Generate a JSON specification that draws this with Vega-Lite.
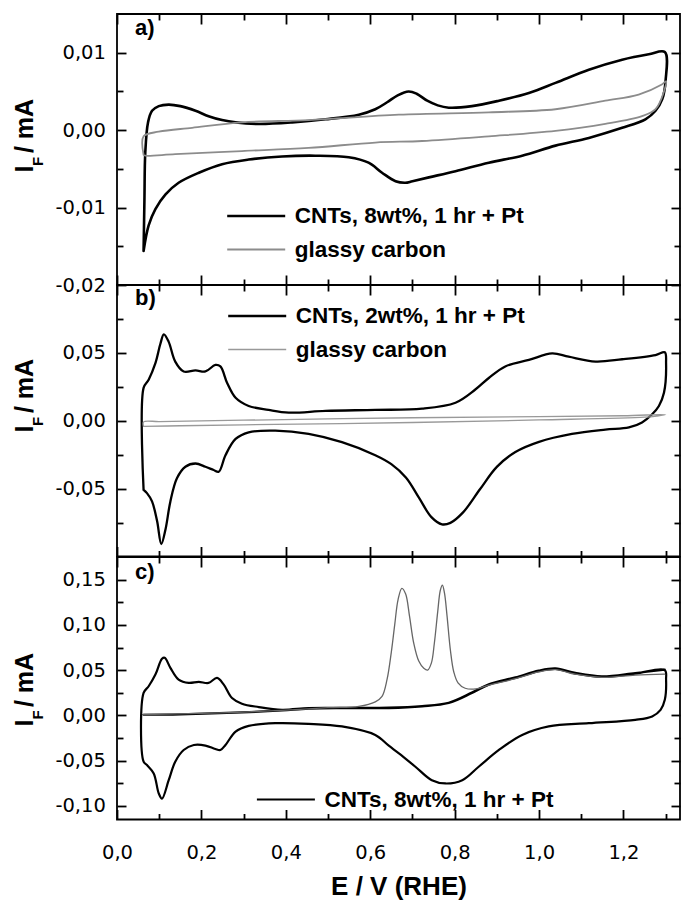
{
  "$schema": "https://vega.github.io/schema/vega-lite/v6.json",
  "background": "white",
  "padding": {"left": 11, "top": 12, "right": 0, "bottom": 0},
  "spacing": 0,
  "bounds": "flush",
  "config": {
    "view": {"stroke": "#000", "strokeWidth": 1.8},
    "axis": {"labelFont": "DejaVu Sans", "labelFontSize": 19.5, "labelColor": "#000", "titleFont": "Liberation Sans", "titleFontSize": 25, "titleFontWeight": "bold", "titleColor": "#000", "tickColor": "#000", "tickWidth": 1.8, "domain": false, "grid": false, "labelOverlap": false, "labelFlush": false},
    "legend": {"orient": "none", "symbolType": "M-1,0H3", "symbolSize": 841, "symbolStrokeWidth": 2, "symbolFillColor": "transparent", "labelFont": "Liberation Sans", "labelFontSize": 22.5, "labelFontWeight": "bold", "labelColor": "#000", "labelLimit": 600, "labelOffset": 37, "padding": 0, "rowPadding": 6},
    "line": {"strokeJoin": "round", "strokeCap": "round", "interpolate": "catmull-rom"}
  },
  "resolve": {"scale": {"color": "independent", "strokeWidth": "independent"}, "legend": {"color": "independent"}},
  "datasets": {
    "a": [
      {"s":"CNTs, 8wt%, 1 hr + Pt","i":0,"x":0.063,"y":-0.0156},
      {"s":"CNTs, 8wt%, 1 hr + Pt","i":1,"x":0.065,"y":-0.0090},
      {"s":"CNTs, 8wt%, 1 hr + Pt","i":2,"x":0.067,"y":-0.0029},
      {"s":"CNTs, 8wt%, 1 hr + Pt","i":3,"x":0.0735,"y":0.0010},
      {"s":"CNTs, 8wt%, 1 hr + Pt","i":4,"x":0.083,"y":0.0025},
      {"s":"CNTs, 8wt%, 1 hr + Pt","i":5,"x":0.099,"y":0.0031},
      {"s":"CNTs, 8wt%, 1 hr + Pt","i":6,"x":0.1225,"y":0.0033},
      {"s":"CNTs, 8wt%, 1 hr + Pt","i":7,"x":0.150,"y":0.0031},
      {"s":"CNTs, 8wt%, 1 hr + Pt","i":8,"x":0.186,"y":0.0025},
      {"s":"CNTs, 8wt%, 1 hr + Pt","i":9,"x":0.217,"y":0.0018},
      {"s":"CNTs, 8wt%, 1 hr + Pt","i":10,"x":0.249,"y":0.0013},
      {"s":"CNTs, 8wt%, 1 hr + Pt","i":11,"x":0.281,"y":0.0010},
      {"s":"CNTs, 8wt%, 1 hr + Pt","i":12,"x":0.336,"y":0.0008},
      {"s":"CNTs, 8wt%, 1 hr + Pt","i":13,"x":0.415,"y":0.0010},
      {"s":"CNTs, 8wt%, 1 hr + Pt","i":14,"x":0.494,"y":0.0014},
      {"s":"CNTs, 8wt%, 1 hr + Pt","i":15,"x":0.573,"y":0.0020},
      {"s":"CNTs, 8wt%, 1 hr + Pt","i":16,"x":0.612,"y":0.0027},
      {"s":"CNTs, 8wt%, 1 hr + Pt","i":17,"x":0.640,"y":0.0036},
      {"s":"CNTs, 8wt%, 1 hr + Pt","i":18,"x":0.665,"y":0.0045},
      {"s":"CNTs, 8wt%, 1 hr + Pt","i":19,"x":0.691,"y":0.0050},
      {"s":"CNTs, 8wt%, 1 hr + Pt","i":20,"x":0.710,"y":0.0047},
      {"s":"CNTs, 8wt%, 1 hr + Pt","i":21,"x":0.735,"y":0.0038},
      {"s":"CNTs, 8wt%, 1 hr + Pt","i":22,"x":0.760,"y":0.0032},
      {"s":"CNTs, 8wt%, 1 hr + Pt","i":23,"x":0.786,"y":0.0029},
      {"s":"CNTs, 8wt%, 1 hr + Pt","i":24,"x":0.841,"y":0.0031},
      {"s":"CNTs, 8wt%, 1 hr + Pt","i":25,"x":0.905,"y":0.0038},
      {"s":"CNTs, 8wt%, 1 hr + Pt","i":26,"x":0.976,"y":0.0048},
      {"s":"CNTs, 8wt%, 1 hr + Pt","i":27,"x":1.039,"y":0.0061},
      {"s":"CNTs, 8wt%, 1 hr + Pt","i":28,"x":1.118,"y":0.0078},
      {"s":"CNTs, 8wt%, 1 hr + Pt","i":29,"x":1.197,"y":0.0091},
      {"s":"CNTs, 8wt%, 1 hr + Pt","i":30,"x":1.260,"y":0.0098},
      {"s":"CNTs, 8wt%, 1 hr + Pt","i":31,"x":1.298,"y":0.0101},
      {"s":"CNTs, 8wt%, 1 hr + Pt","i":32,"x":1.300,"y":0.0065},
      {"s":"CNTs, 8wt%, 1 hr + Pt","i":33,"x":1.292,"y":0.0040},
      {"s":"CNTs, 8wt%, 1 hr + Pt","i":34,"x":1.276,"y":0.0025},
      {"s":"CNTs, 8wt%, 1 hr + Pt","i":35,"x":1.252,"y":0.0014},
      {"s":"CNTs, 8wt%, 1 hr + Pt","i":36,"x":1.197,"y":0.0003},
      {"s":"CNTs, 8wt%, 1 hr + Pt","i":37,"x":1.118,"y":-0.0010},
      {"s":"CNTs, 8wt%, 1 hr + Pt","i":38,"x":1.039,"y":-0.0020},
      {"s":"CNTs, 8wt%, 1 hr + Pt","i":39,"x":0.960,"y":-0.0033},
      {"s":"CNTs, 8wt%, 1 hr + Pt","i":40,"x":0.881,"y":-0.0042},
      {"s":"CNTs, 8wt%, 1 hr + Pt","i":41,"x":0.802,"y":-0.0053},
      {"s":"CNTs, 8wt%, 1 hr + Pt","i":42,"x":0.739,"y":-0.0061},
      {"s":"CNTs, 8wt%, 1 hr + Pt","i":43,"x":0.700,"y":-0.0066},
      {"s":"CNTs, 8wt%, 1 hr + Pt","i":44,"x":0.683,"y":-0.0068},
      {"s":"CNTs, 8wt%, 1 hr + Pt","i":45,"x":0.660,"y":-0.0066},
      {"s":"CNTs, 8wt%, 1 hr + Pt","i":46,"x":0.628,"y":-0.0055},
      {"s":"CNTs, 8wt%, 1 hr + Pt","i":47,"x":0.596,"y":-0.0042},
      {"s":"CNTs, 8wt%, 1 hr + Pt","i":48,"x":0.549,"y":-0.0035},
      {"s":"CNTs, 8wt%, 1 hr + Pt","i":49,"x":0.470,"y":-0.0033},
      {"s":"CNTs, 8wt%, 1 hr + Pt","i":50,"x":0.391,"y":-0.0034},
      {"s":"CNTs, 8wt%, 1 hr + Pt","i":51,"x":0.312,"y":-0.0038},
      {"s":"CNTs, 8wt%, 1 hr + Pt","i":52,"x":0.249,"y":-0.0044},
      {"s":"CNTs, 8wt%, 1 hr + Pt","i":53,"x":0.194,"y":-0.0055},
      {"s":"CNTs, 8wt%, 1 hr + Pt","i":54,"x":0.146,"y":-0.0068},
      {"s":"CNTs, 8wt%, 1 hr + Pt","i":55,"x":0.115,"y":-0.0083},
      {"s":"CNTs, 8wt%, 1 hr + Pt","i":56,"x":0.091,"y":-0.0102},
      {"s":"CNTs, 8wt%, 1 hr + Pt","i":57,"x":0.075,"y":-0.0123},
      {"s":"CNTs, 8wt%, 1 hr + Pt","i":58,"x":0.063,"y":-0.0156},
      {"s":"glassy carbon","i":0,"x":0.063,"y":-0.0032},
      {"s":"glassy carbon","i":1,"x":0.063,"y":-0.0008},
      {"s":"glassy carbon","i":2,"x":0.099,"y":-0.0002},
      {"s":"glassy carbon","i":3,"x":0.178,"y":0.0003},
      {"s":"glassy carbon","i":4,"x":0.296,"y":0.0010},
      {"s":"glassy carbon","i":5,"x":0.454,"y":0.0013},
      {"s":"glassy carbon","i":6,"x":0.668,"y":0.0020},
      {"s":"glassy carbon","i":7,"x":0.881,"y":0.0023},
      {"s":"glassy carbon","i":8,"x":1.039,"y":0.0027},
      {"s":"glassy carbon","i":9,"x":1.157,"y":0.0038},
      {"s":"glassy carbon","i":10,"x":1.236,"y":0.0046},
      {"s":"glassy carbon","i":11,"x":1.291,"y":0.0059},
      {"s":"glassy carbon","i":12,"x":1.301,"y":0.0063},
      {"s":"glassy carbon","i":13,"x":1.296,"y":0.0050},
      {"s":"glassy carbon","i":14,"x":1.276,"y":0.0027},
      {"s":"glassy carbon","i":15,"x":1.244,"y":0.0018},
      {"s":"glassy carbon","i":16,"x":1.157,"y":0.0008},
      {"s":"glassy carbon","i":17,"x":1.039,"y":-0.0001},
      {"s":"glassy carbon","i":18,"x":0.881,"y":-0.0008},
      {"s":"glassy carbon","i":19,"x":0.723,"y":-0.0014},
      {"s":"glassy carbon","i":20,"x":0.612,"y":-0.0016},
      {"s":"glassy carbon","i":21,"x":0.454,"y":-0.0023},
      {"s":"glassy carbon","i":22,"x":0.296,"y":-0.0027},
      {"s":"glassy carbon","i":23,"x":0.138,"y":-0.0031},
      {"s":"glassy carbon","i":24,"x":0.067,"y":-0.0033},
      {"s":"glassy carbon","i":25,"x":0.063,"y":-0.0032}
    ],
    "b": [
      {"s":"CNTs, 2wt%, 1 hr + Pt","i":0,"x":0.063,"y":-0.0509},
      {"s":"CNTs, 2wt%, 1 hr + Pt","i":1,"x":0.063,"y":0.0242},
      {"s":"CNTs, 2wt%, 1 hr + Pt","i":2,"x":0.075,"y":0.0302},
      {"s":"CNTs, 2wt%, 1 hr + Pt","i":3,"x":0.091,"y":0.0424},
      {"s":"CNTs, 2wt%, 1 hr + Pt","i":4,"x":0.103,"y":0.0569},
      {"s":"CNTs, 2wt%, 1 hr + Pt","i":5,"x":0.111,"y":0.0637},
      {"s":"CNTs, 2wt%, 1 hr + Pt","i":6,"x":0.1225,"y":0.0581},
      {"s":"CNTs, 2wt%, 1 hr + Pt","i":7,"x":0.138,"y":0.0436},
      {"s":"CNTs, 2wt%, 1 hr + Pt","i":8,"x":0.158,"y":0.0363},
      {"s":"CNTs, 2wt%, 1 hr + Pt","i":9,"x":0.186,"y":0.0371},
      {"s":"CNTs, 2wt%, 1 hr + Pt","i":10,"x":0.2095,"y":0.0363},
      {"s":"CNTs, 2wt%, 1 hr + Pt","i":11,"x":0.233,"y":0.0411},
      {"s":"CNTs, 2wt%, 1 hr + Pt","i":12,"x":0.245,"y":0.0400},
      {"s":"CNTs, 2wt%, 1 hr + Pt","i":13,"x":0.261,"y":0.0278},
      {"s":"CNTs, 2wt%, 1 hr + Pt","i":14,"x":0.281,"y":0.0169},
      {"s":"CNTs, 2wt%, 1 hr + Pt","i":15,"x":0.312,"y":0.0109},
      {"s":"CNTs, 2wt%, 1 hr + Pt","i":16,"x":0.359,"y":0.0080},
      {"s":"CNTs, 2wt%, 1 hr + Pt","i":17,"x":0.407,"y":0.0060},
      {"s":"CNTs, 2wt%, 1 hr + Pt","i":18,"x":0.494,"y":0.0073},
      {"s":"CNTs, 2wt%, 1 hr + Pt","i":19,"x":0.612,"y":0.0080},
      {"s":"CNTs, 2wt%, 1 hr + Pt","i":20,"x":0.723,"y":0.0089},
      {"s":"CNTs, 2wt%, 1 hr + Pt","i":21,"x":0.802,"y":0.0133},
      {"s":"CNTs, 2wt%, 1 hr + Pt","i":22,"x":0.849,"y":0.0230},
      {"s":"CNTs, 2wt%, 1 hr + Pt","i":23,"x":0.881,"y":0.0315},
      {"s":"CNTs, 2wt%, 1 hr + Pt","i":24,"x":0.920,"y":0.0400},
      {"s":"CNTs, 2wt%, 1 hr + Pt","i":25,"x":0.976,"y":0.0448},
      {"s":"CNTs, 2wt%, 1 hr + Pt","i":26,"x":1.031,"y":0.0496},
      {"s":"CNTs, 2wt%, 1 hr + Pt","i":27,"x":1.070,"y":0.0472},
      {"s":"CNTs, 2wt%, 1 hr + Pt","i":28,"x":1.134,"y":0.0436},
      {"s":"CNTs, 2wt%, 1 hr + Pt","i":29,"x":1.197,"y":0.0453},
      {"s":"CNTs, 2wt%, 1 hr + Pt","i":30,"x":1.276,"y":0.0484},
      {"s":"CNTs, 2wt%, 1 hr + Pt","i":31,"x":1.298,"y":0.0504},
      {"s":"CNTs, 2wt%, 1 hr + Pt","i":32,"x":1.301,"y":0.0424},
      {"s":"CNTs, 2wt%, 1 hr + Pt","i":33,"x":1.296,"y":0.0206},
      {"s":"CNTs, 2wt%, 1 hr + Pt","i":34,"x":1.284,"y":0.0109},
      {"s":"CNTs, 2wt%, 1 hr + Pt","i":35,"x":1.268,"y":0.0048},
      {"s":"CNTs, 2wt%, 1 hr + Pt","i":36,"x":1.244,"y":-0.0012},
      {"s":"CNTs, 2wt%, 1 hr + Pt","i":37,"x":1.213,"y":-0.0049},
      {"s":"CNTs, 2wt%, 1 hr + Pt","i":38,"x":1.157,"y":-0.0065},
      {"s":"CNTs, 2wt%, 1 hr + Pt","i":39,"x":1.078,"y":-0.0097},
      {"s":"CNTs, 2wt%, 1 hr + Pt","i":40,"x":1.000,"y":-0.0155},
      {"s":"CNTs, 2wt%, 1 hr + Pt","i":41,"x":0.944,"y":-0.0230},
      {"s":"CNTs, 2wt%, 1 hr + Pt","i":42,"x":0.900,"y":-0.0340},
      {"s":"CNTs, 2wt%, 1 hr + Pt","i":43,"x":0.860,"y":-0.0505},
      {"s":"CNTs, 2wt%, 1 hr + Pt","i":44,"x":0.820,"y":-0.0675},
      {"s":"CNTs, 2wt%, 1 hr + Pt","i":45,"x":0.790,"y":-0.0752},
      {"s":"CNTs, 2wt%, 1 hr + Pt","i":46,"x":0.770,"y":-0.0763},
      {"s":"CNTs, 2wt%, 1 hr + Pt","i":47,"x":0.745,"y":-0.0710},
      {"s":"CNTs, 2wt%, 1 hr + Pt","i":48,"x":0.715,"y":-0.0565},
      {"s":"CNTs, 2wt%, 1 hr + Pt","i":49,"x":0.685,"y":-0.0420},
      {"s":"CNTs, 2wt%, 1 hr + Pt","i":50,"x":0.650,"y":-0.0320},
      {"s":"CNTs, 2wt%, 1 hr + Pt","i":51,"x":0.612,"y":-0.0254},
      {"s":"CNTs, 2wt%, 1 hr + Pt","i":52,"x":0.533,"y":-0.0158},
      {"s":"CNTs, 2wt%, 1 hr + Pt","i":53,"x":0.454,"y":-0.0097},
      {"s":"CNTs, 2wt%, 1 hr + Pt","i":54,"x":0.375,"y":-0.0073},
      {"s":"CNTs, 2wt%, 1 hr + Pt","i":55,"x":0.312,"y":-0.0085},
      {"s":"CNTs, 2wt%, 1 hr + Pt","i":56,"x":0.281,"y":-0.0134},
      {"s":"CNTs, 2wt%, 1 hr + Pt","i":57,"x":0.257,"y":-0.0254},
      {"s":"CNTs, 2wt%, 1 hr + Pt","i":58,"x":0.241,"y":-0.0376},
      {"s":"CNTs, 2wt%, 1 hr + Pt","i":59,"x":0.229,"y":-0.0363},
      {"s":"CNTs, 2wt%, 1 hr + Pt","i":60,"x":0.2095,"y":-0.0339},
      {"s":"CNTs, 2wt%, 1 hr + Pt","i":61,"x":0.186,"y":-0.0315},
      {"s":"CNTs, 2wt%, 1 hr + Pt","i":62,"x":0.162,"y":-0.0339},
      {"s":"CNTs, 2wt%, 1 hr + Pt","i":63,"x":0.142,"y":-0.0424},
      {"s":"CNTs, 2wt%, 1 hr + Pt","i":64,"x":0.1265,"y":-0.0594},
      {"s":"CNTs, 2wt%, 1 hr + Pt","i":65,"x":0.115,"y":-0.0799},
      {"s":"CNTs, 2wt%, 1 hr + Pt","i":66,"x":0.105,"y":-0.0908},
      {"s":"CNTs, 2wt%, 1 hr + Pt","i":67,"x":0.095,"y":-0.0739},
      {"s":"CNTs, 2wt%, 1 hr + Pt","i":68,"x":0.083,"y":-0.0594},
      {"s":"CNTs, 2wt%, 1 hr + Pt","i":69,"x":0.071,"y":-0.0533},
      {"s":"CNTs, 2wt%, 1 hr + Pt","i":70,"x":0.063,"y":-0.0509},
      {"s":"glassy carbon","i":0,"x":0.063,"y":-0.0042},
      {"s":"glassy carbon","i":1,"x":0.063,"y":-0.0008},
      {"s":"glassy carbon","i":2,"x":0.100,"y":-0.0006},
      {"s":"glassy carbon","i":3,"x":0.200,"y":-0.0001},
      {"s":"glassy carbon","i":4,"x":0.300,"y":0.0004},
      {"s":"glassy carbon","i":5,"x":0.700,"y":0.0022},
      {"s":"glassy carbon","i":6,"x":1.000,"y":0.0031},
      {"s":"glassy carbon","i":7,"x":1.200,"y":0.0037},
      {"s":"glassy carbon","i":8,"x":1.300,"y":0.0045},
      {"s":"glassy carbon","i":9,"x":1.280,"y":0.0035},
      {"s":"glassy carbon","i":10,"x":1.250,"y":0.0026},
      {"s":"glassy carbon","i":11,"x":1.000,"y":0.0006},
      {"s":"glassy carbon","i":12,"x":0.700,"y":-0.0013},
      {"s":"glassy carbon","i":13,"x":0.300,"y":-0.0030},
      {"s":"glassy carbon","i":14,"x":0.150,"y":-0.0037},
      {"s":"glassy carbon","i":15,"x":0.063,"y":-0.0042}
    ],
    "c": [
      {"s":"CNTs, 8wt%, 1 hr + Pt","i":0,"x":0.063,"y":0.0007},
      {"s":"CNTs, 8wt%, 1 hr + Pt","i":1,"x":0.150,"y":0.0012},
      {"s":"CNTs, 8wt%, 1 hr + Pt","i":2,"x":0.296,"y":0.0033},
      {"s":"CNTs, 8wt%, 1 hr + Pt","i":3,"x":0.391,"y":0.0055},
      {"s":"CNTs, 8wt%, 1 hr + Pt","i":4,"x":0.454,"y":0.0075},
      {"s":"CNTs, 8wt%, 1 hr + Pt","i":5,"x":0.533,"y":0.0081},
      {"s":"CNTs, 8wt%, 1 hr + Pt","i":6,"x":0.644,"y":0.0081},
      {"s":"CNTs, 8wt%, 1 hr + Pt","i":7,"x":0.723,"y":0.0100},
      {"s":"CNTs, 8wt%, 1 hr + Pt","i":8,"x":0.786,"y":0.0137},
      {"s":"CNTs, 8wt%, 1 hr + Pt","i":9,"x":0.841,"y":0.0248},
      {"s":"CNTs, 8wt%, 1 hr + Pt","i":10,"x":0.881,"y":0.0340},
      {"s":"CNTs, 8wt%, 1 hr + Pt","i":11,"x":0.944,"y":0.0414},
      {"s":"CNTs, 8wt%, 1 hr + Pt","i":12,"x":0.999,"y":0.0489},
      {"s":"CNTs, 8wt%, 1 hr + Pt","i":13,"x":1.039,"y":0.0514},
      {"s":"CNTs, 8wt%, 1 hr + Pt","i":14,"x":1.086,"y":0.0462},
      {"s":"CNTs, 8wt%, 1 hr + Pt","i":15,"x":1.149,"y":0.0426},
      {"s":"CNTs, 8wt%, 1 hr + Pt","i":16,"x":1.228,"y":0.0462},
      {"s":"CNTs, 8wt%, 1 hr + Pt","i":17,"x":1.298,"y":0.0500},
      {"s":"CNTs, 8wt%, 1 hr + Pt","i":18,"x":1.301,"y":0.0396},
      {"s":"CNTs, 8wt%, 1 hr + Pt","i":19,"x":1.298,"y":0.0173},
      {"s":"CNTs, 8wt%, 1 hr + Pt","i":20,"x":1.288,"y":0.0062},
      {"s":"CNTs, 8wt%, 1 hr + Pt","i":21,"x":1.268,"y":-0.0011},
      {"s":"CNTs, 8wt%, 1 hr + Pt","i":22,"x":1.228,"y":-0.0049},
      {"s":"CNTs, 8wt%, 1 hr + Pt","i":23,"x":1.118,"y":-0.0086},
      {"s":"CNTs, 8wt%, 1 hr + Pt","i":24,"x":1.023,"y":-0.0122},
      {"s":"CNTs, 8wt%, 1 hr + Pt","i":25,"x":0.960,"y":-0.0216},
      {"s":"CNTs, 8wt%, 1 hr + Pt","i":26,"x":0.905,"y":-0.0382},
      {"s":"CNTs, 8wt%, 1 hr + Pt","i":27,"x":0.857,"y":-0.0567},
      {"s":"CNTs, 8wt%, 1 hr + Pt","i":28,"x":0.818,"y":-0.0716},
      {"s":"CNTs, 8wt%, 1 hr + Pt","i":29,"x":0.778,"y":-0.0752},
      {"s":"CNTs, 8wt%, 1 hr + Pt","i":30,"x":0.746,"y":-0.0716},
      {"s":"CNTs, 8wt%, 1 hr + Pt","i":31,"x":0.707,"y":-0.0567},
      {"s":"CNTs, 8wt%, 1 hr + Pt","i":32,"x":0.668,"y":-0.0419},
      {"s":"CNTs, 8wt%, 1 hr + Pt","i":33,"x":0.644,"y":-0.0335},
      {"s":"CNTs, 8wt%, 1 hr + Pt","i":34,"x":0.612,"y":-0.0216},
      {"s":"CNTs, 8wt%, 1 hr + Pt","i":35,"x":0.533,"y":-0.0122},
      {"s":"CNTs, 8wt%, 1 hr + Pt","i":36,"x":0.454,"y":-0.0093},
      {"s":"CNTs, 8wt%, 1 hr + Pt","i":37,"x":0.375,"y":-0.0086},
      {"s":"CNTs, 8wt%, 1 hr + Pt","i":38,"x":0.312,"y":-0.0116},
      {"s":"CNTs, 8wt%, 1 hr + Pt","i":39,"x":0.281,"y":-0.0178},
      {"s":"CNTs, 8wt%, 1 hr + Pt","i":40,"x":0.257,"y":-0.0327},
      {"s":"CNTs, 8wt%, 1 hr + Pt","i":41,"x":0.245,"y":-0.0382},
      {"s":"CNTs, 8wt%, 1 hr + Pt","i":42,"x":0.233,"y":-0.0371},
      {"s":"CNTs, 8wt%, 1 hr + Pt","i":43,"x":0.2095,"y":-0.0333},
      {"s":"CNTs, 8wt%, 1 hr + Pt","i":44,"x":0.182,"y":-0.0327},
      {"s":"CNTs, 8wt%, 1 hr + Pt","i":45,"x":0.158,"y":-0.0382},
      {"s":"CNTs, 8wt%, 1 hr + Pt","i":46,"x":0.138,"y":-0.0511},
      {"s":"CNTs, 8wt%, 1 hr + Pt","i":47,"x":0.1225,"y":-0.0716},
      {"s":"CNTs, 8wt%, 1 hr + Pt","i":48,"x":0.1066,"y":-0.0919},
      {"s":"CNTs, 8wt%, 1 hr + Pt","i":49,"x":0.099,"y":-0.0863},
      {"s":"CNTs, 8wt%, 1 hr + Pt","i":50,"x":0.087,"y":-0.0641},
      {"s":"CNTs, 8wt%, 1 hr + Pt","i":51,"x":0.071,"y":-0.0549},
      {"s":"CNTs, 8wt%, 1 hr + Pt","i":52,"x":0.063,"y":-0.0511},
      {"s":"CNTs, 8wt%, 1 hr + Pt","i":53,"x":0.063,"y":0.0248},
      {"s":"CNTs, 8wt%, 1 hr + Pt","i":54,"x":0.075,"y":0.0322},
      {"s":"CNTs, 8wt%, 1 hr + Pt","i":55,"x":0.091,"y":0.0451},
      {"s":"CNTs, 8wt%, 1 hr + Pt","i":56,"x":0.1066,"y":0.0626},
      {"s":"CNTs, 8wt%, 1 hr + Pt","i":57,"x":0.113,"y":0.0637},
      {"s":"CNTs, 8wt%, 1 hr + Pt","i":58,"x":0.1265,"y":0.0526},
      {"s":"CNTs, 8wt%, 1 hr + Pt","i":59,"x":0.146,"y":0.0396},
      {"s":"CNTs, 8wt%, 1 hr + Pt","i":60,"x":0.170,"y":0.0359},
      {"s":"CNTs, 8wt%, 1 hr + Pt","i":61,"x":0.1936,"y":0.0370},
      {"s":"CNTs, 8wt%, 1 hr + Pt","i":62,"x":0.217,"y":0.0359},
      {"s":"CNTs, 8wt%, 1 hr + Pt","i":63,"x":0.237,"y":0.0414},
      {"s":"CNTs, 8wt%, 1 hr + Pt","i":64,"x":0.253,"y":0.0340},
      {"s":"CNTs, 8wt%, 1 hr + Pt","i":65,"x":0.2725,"y":0.0192},
      {"s":"CNTs, 8wt%, 1 hr + Pt","i":66,"x":0.296,"y":0.0129},
      {"s":"CNTs, 8wt%, 1 hr + Pt","i":67,"x":0.336,"y":0.0092},
      {"s":"CNTs, 8wt%, 1 hr + Pt","i":68,"x":0.391,"y":0.0062},
      {"s":"CNTs, 8wt%, 1 hr + Pt","i":69,"x":0.454,"y":0.0081},
      {"s":"CNTs, 8wt%, 1 hr + Pt","i":70,"x":0.533,"y":0.0083},
      {"s":"CNTs, 8wt%, 1 hr + Pt","i":71,"x":0.644,"y":0.0085},
      {"s":"CNTs, 8wt%, 1 hr + Pt","i":72,"x":0.723,"y":0.0103},
      {"s":"CNTs, 8wt%, 1 hr + Pt","i":73,"x":0.786,"y":0.0140},
      {"s":"CNTs, 8wt%, 1 hr + Pt","i":74,"x":0.841,"y":0.0252},
      {"s":"CNTs, 8wt%, 1 hr + Pt","i":75,"x":0.881,"y":0.0345},
      {"s":"CNTs, 8wt%, 1 hr + Pt","i":76,"x":0.944,"y":0.0420},
      {"s":"CNTs, 8wt%, 1 hr + Pt","i":77,"x":0.999,"y":0.0495},
      {"s":"CNTs, 8wt%, 1 hr + Pt","i":78,"x":1.039,"y":0.0520},
      {"s":"CNTs, 8wt%, 1 hr + Pt","i":79,"x":1.086,"y":0.0470},
      {"s":"CNTs, 8wt%, 1 hr + Pt","i":80,"x":1.149,"y":0.0432},
      {"s":"CNTs, 8wt%, 1 hr + Pt","i":81,"x":1.228,"y":0.0468},
      {"s":"CNTs, 8wt%, 1 hr + Pt","i":82,"x":1.298,"y":0.0505},
      {"s":"first cycle","i":0,"x":0.063,"y":0.0010},
      {"s":"first cycle","i":1,"x":0.200,"y":0.0022},
      {"s":"first cycle","i":2,"x":0.300,"y":0.0037},
      {"s":"first cycle","i":3,"x":0.400,"y":0.0058},
      {"s":"first cycle","i":4,"x":0.500,"y":0.0085},
      {"s":"first cycle","i":5,"x":0.573,"y":0.0100},
      {"s":"first cycle","i":6,"x":0.612,"y":0.0150},
      {"s":"first cycle","i":7,"x":0.628,"y":0.0210},
      {"s":"first cycle","i":8,"x":0.640,"y":0.0400},
      {"s":"first cycle","i":9,"x":0.650,"y":0.0700},
      {"s":"first cycle","i":10,"x":0.658,"y":0.1000},
      {"s":"first cycle","i":11,"x":0.666,"y":0.1280},
      {"s":"first cycle","i":12,"x":0.675,"y":0.1403},
      {"s":"first cycle","i":13,"x":0.684,"y":0.1340},
      {"s":"first cycle","i":14,"x":0.693,"y":0.1100},
      {"s":"first cycle","i":15,"x":0.703,"y":0.0800},
      {"s":"first cycle","i":16,"x":0.715,"y":0.0600},
      {"s":"first cycle","i":17,"x":0.727,"y":0.0520},
      {"s":"first cycle","i":18,"x":0.736,"y":0.0500},
      {"s":"first cycle","i":19,"x":0.745,"y":0.0580},
      {"s":"first cycle","i":20,"x":0.752,"y":0.0800},
      {"s":"first cycle","i":21,"x":0.760,"y":0.1150},
      {"s":"first cycle","i":22,"x":0.766,"y":0.1380},
      {"s":"first cycle","i":23,"x":0.771,"y":0.1440},
      {"s":"first cycle","i":24,"x":0.776,"y":0.1350},
      {"s":"first cycle","i":25,"x":0.782,"y":0.1100},
      {"s":"first cycle","i":26,"x":0.790,"y":0.0720},
      {"s":"first cycle","i":27,"x":0.798,"y":0.0480},
      {"s":"first cycle","i":28,"x":0.808,"y":0.0360},
      {"s":"first cycle","i":29,"x":0.825,"y":0.0300},
      {"s":"first cycle","i":30,"x":0.850,"y":0.0292},
      {"s":"first cycle","i":31,"x":0.881,"y":0.0335},
      {"s":"first cycle","i":32,"x":0.944,"y":0.0405},
      {"s":"first cycle","i":33,"x":0.999,"y":0.0480},
      {"s":"first cycle","i":34,"x":1.039,"y":0.0505},
      {"s":"first cycle","i":35,"x":1.086,"y":0.0455},
      {"s":"first cycle","i":36,"x":1.149,"y":0.0420},
      {"s":"first cycle","i":37,"x":1.228,"y":0.0445},
      {"s":"first cycle","i":38,"x":1.298,"y":0.0455}
    ]
  },
  "vconcat": [
    {
      "width": 563, "height": 271,
      "data": {"name": "a"},
      "title": {"text": "a)", "anchor": "start", "frame": "group", "orient": "top", "offset": 0, "dx": 18, "dy": 44, "baseline": "alphabetic", "font": "Liberation Sans", "fontSize": 22, "fontWeight": "bold", "color": "#000"},
      "layer": [
        {
          "mark": {"type": "line"},
          "encoding": {
            "x": {"field": "x", "type": "quantitative", "scale": {"domain": [0, 1.334], "nice": false, "zero": false},
                  "axis": {"orient": "bottom", "values": [0,0.1,0.2,0.3,0.4,0.5,0.6,0.7,0.8,0.9,1,1.1,1.2,1.3], "labels": false, "title": null,
                           "tickSize": {"condition": {"test": "round(datum.value*10)%2==0", "value": -10}, "value": -6}}},
            "y": {"field": "y", "type": "quantitative", "scale": {"domain": [-0.02, 0.015], "nice": false, "zero": false},
                  "axis": {"orient": "left", "values": [-0.02,-0.015,-0.01,-0.005,0,0.005,0.01],
                           "tickSize": {"condition": {"test": "round(datum.value*200)%2==0", "value": -9}, "value": -6},
                           "labelExpr": "round(datum.value*200)%2==0 ? replace(replace(format(datum.value,'.2f'),'.',','),'\u2212','-') : ''",
                           "labelPadding": 20.6, "labelAlign": "right", "labelBaseline": "middle",
                           "title": "I\u2002/ mA", "titleAngle": -90, "titleAlign": "left", "titleBaseline": "alphabetic", "titleX": -85, "titleY": 158}},
            "color": {"field": "s", "type": "nominal", "scale": {"domain": ["CNTs, 8wt%, 1 hr + Pt", "glassy carbon"], "range": ["#000000", "#8c8c8c"]},
                      "legend": {"title": null, "legendX": 108.7, "legendY": 186}},
            "strokeWidth": {"field": "s", "type": "nominal", "scale": {"domain": ["CNTs, 8wt%, 1 hr + Pt", "glassy carbon"], "range": [2.6, 1.8]}, "legend": null},
            "order": {"field": "i", "type": "quantitative"}
          }
        },
        {
          "mark": {"type": "line", "opacity": 0},
          "encoding": {
            "x": {"field": "x", "type": "quantitative", "scale": {"domain": [0, 1.334], "nice": false, "zero": false},
                  "axis": {"orient": "top", "values": [0,0.1,0.2,0.3,0.4,0.5,0.6,0.7,0.8,0.9,1,1.1,1.2,1.3], "labels": false, "title": null,
                           "tickSize": {"condition": {"test": "round(datum.value*10)%2==0", "value": -10}, "value": -6}}},
            "y": {"field": "y", "type": "quantitative", "scale": {"domain": [-0.02, 0.015], "nice": false, "zero": false},
                  "axis": {"orient": "left", "ticks": false, "labels": false, "title": "F", "titleFontSize": 15, "titleAngle": -90, "titleAlign": "left", "titleBaseline": "alphabetic", "titleX": -75, "titleY": 151.5}}
          }
        },
        {
          "mark": {"type": "line", "opacity": 0},
          "encoding": {
            "x": {"field": "x", "type": "quantitative", "scale": {"domain": [0, 1.334], "nice": false, "zero": false}, "axis": null},
            "y": {"field": "y", "type": "quantitative", "scale": {"domain": [-0.02, 0.015], "nice": false, "zero": false},
                  "axis": {"orient": "right", "values": [-0.02,-0.015,-0.01,-0.005,0,0.005,0.01], "labels": false, "title": null,
                           "tickSize": {"condition": {"test": "round(datum.value*200)%2==0", "value": -9}, "value": -6}}}
          }
        }
      ],
      "resolve": {"axis": {"x": "independent", "y": "independent"}}
    },
    {
      "width": 563, "height": 271.5,
      "data": {"name": "b"},
      "title": {"text": "b)", "anchor": "start", "frame": "group", "orient": "top", "offset": 0, "dx": 18, "dy": 43, "baseline": "alphabetic", "font": "Liberation Sans", "fontSize": 22, "fontWeight": "bold", "color": "#000"},
      "layer": [
        {
          "mark": {"type": "line"},
          "encoding": {
            "x": {"field": "x", "type": "quantitative", "scale": {"domain": [0, 1.334], "nice": false, "zero": false},
                  "axis": {"orient": "bottom", "values": [0,0.1,0.2,0.3,0.4,0.5,0.6,0.7,0.8,0.9,1,1.1,1.2,1.3], "labels": false, "title": null,
                           "tickSize": {"condition": {"test": "round(datum.value*10)%2==0", "value": -10}, "value": -6}}},
            "y": {"field": "y", "type": "quantitative", "scale": {"domain": [-0.1, 0.1], "nice": false, "zero": false},
                  "axis": {"orient": "left", "values": [-0.075,-0.05,-0.025,0,0.025,0.05,0.075],
                           "tickSize": {"condition": {"test": "round(datum.value*40)%2==0", "value": -9}, "value": -6},
                           "labelExpr": "round(datum.value*40)%2==0 ? replace(replace(format(datum.value,'.2f'),'.',','),'\u2212','-') : ''",
                           "labelPadding": 20.6, "labelAlign": "right", "labelBaseline": "middle",
                           "title": "I\u2002/ mA", "titleAngle": -90, "titleAlign": "left", "titleBaseline": "alphabetic", "titleX": -85, "titleY": 147}},
            "color": {"field": "s", "type": "nominal", "scale": {"domain": ["CNTs, 2wt%, 1 hr + Pt", "glassy carbon"], "range": ["#000000", "#999999"]},
                      "legend": {"title": null, "legendX": 109.7, "legendY": 15}},
            "strokeWidth": {"field": "s", "type": "nominal", "scale": {"domain": ["CNTs, 2wt%, 1 hr + Pt", "glassy carbon"], "range": [2.3, 1.3]}, "legend": null},
            "order": {"field": "i", "type": "quantitative"}
          }
        },
        {
          "mark": {"type": "line", "opacity": 0},
          "encoding": {
            "x": {"field": "x", "type": "quantitative", "scale": {"domain": [0, 1.334], "nice": false, "zero": false},
                  "axis": {"orient": "top", "values": [0,0.1,0.2,0.3,0.4,0.5,0.6,0.7,0.8,0.9,1,1.1,1.2,1.3], "labels": false, "title": null,
                           "tickSize": {"condition": {"test": "round(datum.value*10)%2==0", "value": -10}, "value": -6}}},
            "y": {"field": "y", "type": "quantitative", "scale": {"domain": [-0.1, 0.1], "nice": false, "zero": false},
                  "axis": {"orient": "left", "ticks": false, "labels": false, "title": "F", "titleFontSize": 15, "titleAngle": -90, "titleAlign": "left", "titleBaseline": "alphabetic", "titleX": -75, "titleY": 140.5}}
          }
        },
        {
          "mark": {"type": "line", "opacity": 0},
          "encoding": {
            "x": {"field": "x", "type": "quantitative", "scale": {"domain": [0, 1.334], "nice": false, "zero": false}, "axis": null},
            "y": {"field": "y", "type": "quantitative", "scale": {"domain": [-0.1, 0.1], "nice": false, "zero": false},
                  "axis": {"orient": "right", "values": [-0.075,-0.05,-0.025,0,0.025,0.05,0.075], "labels": false, "title": null,
                           "tickSize": {"condition": {"test": "round(datum.value*40)%2==0", "value": -9}, "value": -6}}}
          }
        }
      ],
      "resolve": {"axis": {"x": "independent", "y": "independent"}}
    },
    {
      "width": 563, "height": 262.5,
      "data": {"name": "c"},
      "title": {"text": "c)", "anchor": "start", "frame": "group", "orient": "top", "offset": 0, "dx": 18, "dy": 45, "baseline": "alphabetic", "font": "Liberation Sans", "fontSize": 22, "fontWeight": "bold", "color": "#000"},
      "layer": [
        {
          "mark": {"type": "line"},
          "encoding": {
            "x": {"field": "x", "type": "quantitative", "scale": {"domain": [0, 1.334], "nice": false, "zero": false},
                  "axis": {"orient": "bottom", "values": [0,0.1,0.2,0.3,0.4,0.5,0.6,0.7,0.8,0.9,1,1.1,1.2,1.3],
                           "tickSize": {"condition": {"test": "round(datum.value*10)%2==0", "value": -10}, "value": -6},
                           "labelExpr": "round(datum.value*10)%2==0 ? replace(format(datum.value,'.1f'),'.',',') : ''",
                           "labelPadding": 49, "labelBaseline": "alphabetic", "labelAlign": "center",
                           "title": "E / V (RHE)", "titleFontSize": 26, "titleBaseline": "alphabetic", "titleY": 75}},
            "y": {"field": "y", "type": "quantitative", "scale": {"domain": [-0.115, 0.175], "nice": false, "zero": false},
                  "axis": {"orient": "left", "values": [-0.1,-0.075,-0.05,-0.025,0,0.025,0.05,0.075,0.1,0.125,0.15],
                           "tickSize": {"condition": {"test": "round(datum.value*40)%2==0", "value": -9}, "value": -6},
                           "labelExpr": "round(datum.value*40)%2==0 ? replace(replace(format(datum.value,'.2f'),'.',','),'\u2212','-') : ''",
                           "labelPadding": 20.6, "labelAlign": "right", "labelBaseline": "middle",
                           "title": "I\u2002/ mA", "titleAngle": -90, "titleAlign": "left", "titleBaseline": "alphabetic", "titleX": -85, "titleY": 169}},
            "color": {"field": "s", "type": "nominal", "scale": {"domain": ["CNTs, 8wt%, 1 hr + Pt", "first cycle"], "range": ["#000000", "#666666"]},
                      "legend": {"title": null, "values": ["CNTs, 8wt%, 1 hr + Pt"], "legendX": 138.4, "legendY": 226.5, "symbolStrokeColor": "#555555", "symbolStrokeWidth": 1.4}},
            "strokeWidth": {"field": "s", "type": "nominal", "scale": {"domain": ["CNTs, 8wt%, 1 hr + Pt", "first cycle"], "range": [2.2, 1.3]}, "legend": null},
            "order": {"field": "i", "type": "quantitative"}
          }
        },
        {
          "mark": {"type": "line", "opacity": 0},
          "encoding": {
            "x": {"field": "x", "type": "quantitative", "scale": {"domain": [0, 1.334], "nice": false, "zero": false},
                  "axis": {"orient": "top", "values": [0,0.1,0.2,0.3,0.4,0.5,0.6,0.7,0.8,0.9,1,1.1,1.2,1.3], "labels": false, "title": null,
                           "tickSize": {"condition": {"test": "round(datum.value*10)%2==0", "value": -10}, "value": -6}}},
            "y": {"field": "y", "type": "quantitative", "scale": {"domain": [-0.115, 0.175], "nice": false, "zero": false},
                  "axis": {"orient": "left", "ticks": false, "labels": false, "title": "F", "titleFontSize": 15, "titleAngle": -90, "titleAlign": "left", "titleBaseline": "alphabetic", "titleX": -75, "titleY": 162}}
          }
        },
        {
          "mark": {"type": "line", "opacity": 0},
          "encoding": {
            "x": {"field": "x", "type": "quantitative", "scale": {"domain": [0, 1.334], "nice": false, "zero": false}, "axis": null},
            "y": {"field": "y", "type": "quantitative", "scale": {"domain": [-0.115, 0.175], "nice": false, "zero": false},
                  "axis": {"orient": "right", "values": [-0.1,-0.075,-0.05,-0.025,0,0.025,0.05,0.075,0.1,0.125,0.15], "labels": false, "title": null,
                           "tickSize": {"condition": {"test": "round(datum.value*40)%2==0", "value": -9}, "value": -6}}}
          }
        }
      ],
      "resolve": {"axis": {"x": "independent", "y": "independent"}}
    }
  ]
}
